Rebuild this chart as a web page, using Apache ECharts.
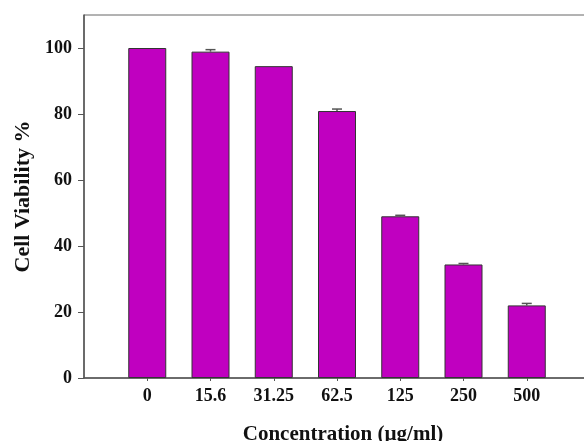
<!DOCTYPE html>
<html>
<head>
<meta charset="utf-8">
<script src="https://cdn.jsdelivr.net/npm/echarts@6/dist/echarts.min.js"></script>
<style>html,body{margin:0;padding:0;background:#fff}#c{width:584px;height:441px}</style>
</head>
<body>
<div id="c"></div>
<script>
var categories = ['', '0', '15.6', '31.25', '62.5', '125', '250', '500', ''];
var viability = [null, 100, 98.9, 94.5, 80.9, 49.0, 34.4, 22.0, null];
var errors = [null, 0, 0.6, 0, 0.6, 0.3, 0.3, 0.6, null];
var yTicks = [0, 20, 40, 60, 80, 100];

var errData = [];
for (var i = 0; i < categories.length; i++) {
  if (viability[i] != null) errData.push([i, viability[i], errors[i]]);
}

var chart = echarts.init(document.getElementById('c'));
var font = '"Liberation Serif", "Times New Roman", serif';
chart.setOption({
  animation: false,
  grid: { left: 84, top: 15, width: 506, bottom: 63, containLabel: false, outerBoundsMode: 'none',
    show: true, borderColor: '#666', borderWidth: 1, backgroundColor: 'transparent' },
  xAxis: {
    type: 'category',
    data: categories,
    boundaryGap: false,
    axisLine: { lineStyle: { color: '#555', width: 1.5 } },
    axisTick: { show: true, length: 3, inside: false, lineStyle: { color: '#555' },
      interval: function (idx, val) { return val !== ''; } },
    axisLabel: { color: '#111', fontFamily: font, fontWeight: 'bold', fontSize: 18, margin: 9, interval: 0 },
    name: 'Concentration (µg/ml)',
    nameLocation: 'middle',
    nameGap: 46,
    nameTextStyle: { color: '#111', fontFamily: font, fontWeight: 'bold', fontSize: 21, padding: [0, 0, 0, 12] }
  },
  yAxis: {
    type: 'value',
    min: 0, max: 110,
    splitLine: { show: false },
    axisLine: { show: true, lineStyle: { color: '#555', width: 1.5 } },
    axisTick: { show: true, length: 6, lineStyle: { color: '#555' }, customValues: yTicks },
    axisLabel: { color: '#111', fontFamily: font, fontWeight: 'bold', fontSize: 18, margin: 12, customValues: yTicks },
    name: 'Cell Viability %',
    nameLocation: 'middle',
    nameGap: 49,
    nameTextStyle: { color: '#111', fontFamily: font, fontWeight: 'bold', fontSize: 22 }
  },
  series: [
    {
      type: 'bar',
      data: viability,
      barWidth: 38,
      itemStyle: { color: '#C000C0', borderColor: '#333', borderWidth: 1 }
    },
    {
      type: 'custom',
      data: errData,
      encode: { x: 0, y: 1 },
      z: 5,
      renderItem: function (params, api) {
        var x = api.value(0), v = api.value(1), e = api.value(2);
        if (!e) return null;
        var top = api.coord([x, v + e]);
        var base = api.coord([x, v]);
        var hw = 5;
        var st = { stroke: '#555', lineWidth: 1.5 };
        return {
          type: 'group',
          children: [
            { type: 'line', shape: { x1: top[0], y1: top[1], x2: base[0], y2: base[1] }, style: st },
            { type: 'line', shape: { x1: top[0] - hw, y1: top[1], x2: top[0] + hw, y2: top[1] }, style: st }
          ]
        };
      }
    }
  ]
});
</script>
</body>
</html>
